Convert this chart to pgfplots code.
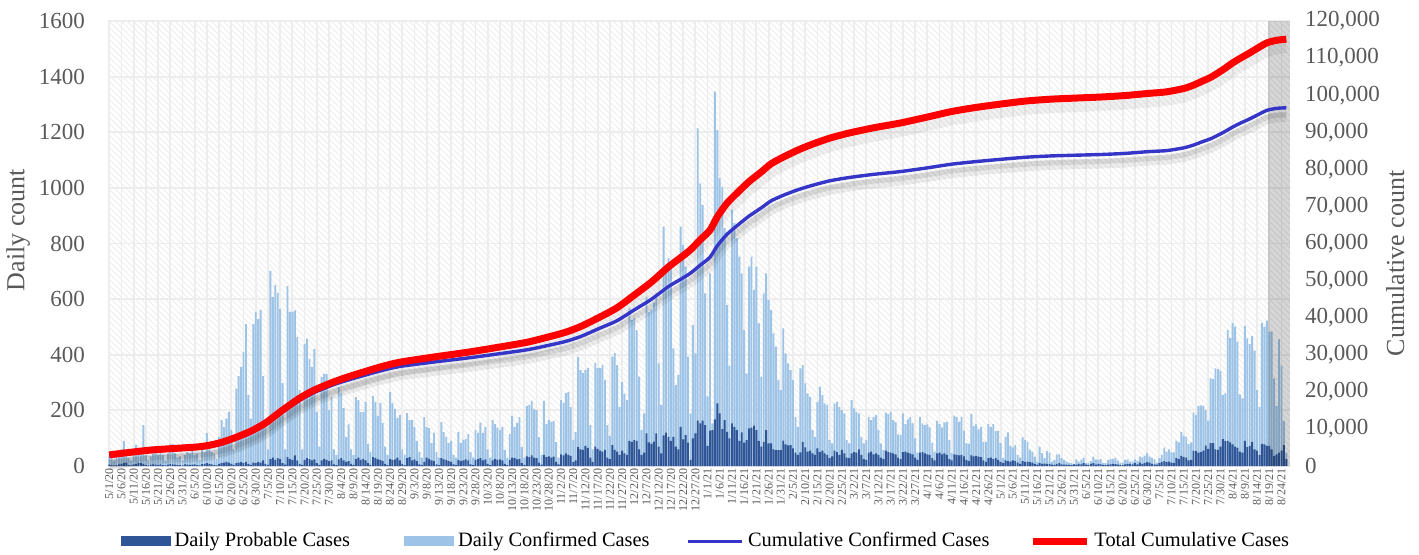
\documentclass[border=0pt]{standalone}
\usepackage{fontspec}
\setmainfont{Liberation Serif}
\usepackage{pgfplots}
\usepackage{pgfplotstable}
\pgfplotsset{compat=1.18}
\usetikzlibrary{patterns}
\definecolor{lightbar}{HTML}{9DC3E6}
\definecolor{darkbar}{HTML}{2F5597}
\definecolor{cumblue}{HTML}{3535C8}
\definecolor{ticktext}{HTML}{595959}
\pgfplotsset{
  barleg/.style={legend image code/.code={\fill[##1] (0pt,-2.6pt) rectangle (25pt,2.6pt);}},
  lineleg/.style={legend image code/.code={\draw[##1] (0pt,0pt) -- (27pt,0pt);}},
}
\pgfplotstableread{
d c p
0 35 5
1 30 3
2 20 2
3 40 4
4 45 6
5 60 8
6 90 10
7 45 12
8 30 4
9 20 2
10 50 6
11 75 8
12 55 12
13 60 10
14 147 8
15 40 3
16 20 2
17 35 5
18 45 6
19 50 5
20 40 4
21 45 6
22 40 3
23 20 2
24 45 5
25 80 7
26 80 6
27 45 5
28 30 4
29 35 3
30 20 2
31 40 6
32 50 5
33 45 4
34 55 5
35 40 6
36 45 3
37 20 2
38 60 7
39 50 8
40 118 10
41 60 8
42 50 6
43 45 4
44 25 2
45 105 8
46 165 10
47 140 12
48 170 15
49 195 12
50 130 8
51 60 4
52 277 10
53 323 12
54 356 14
55 410 10
56 510 15
57 255 8
58 170 4
59 510 12
60 554 10
61 529 14
62 561 12
63 323 20
64 150 8
65 60 4
66 701 25
67 608 30
68 651 22
69 622 28
70 564 25
71 298 10
72 60 5
73 647 32
74 554 25
75 554 22
76 560 38
77 464 20
78 273 8
79 60 4
80 439 22
81 457 28
82 385 25
83 356 20
84 421 24
85 194 10
86 70 4
87 320 20
88 331 26
89 331 22
90 201 18
91 250 20
92 60 6
93 40 3
94 284 24
95 262 28
96 208 20
97 104 15
98 150 18
99 60 8
100 40 4
101 248 25
102 237 30
103 194 22
104 194 26
105 230 20
106 80 10
107 50 4
108 252 32
109 230 28
110 180 24
111 227 22
112 155 18
113 70 8
114 40 3
115 266 25
116 227 22
117 205 24
118 172 30
119 183 20
120 60 8
121 40 3
122 190 28
123 165 32
124 165 20
125 140 24
126 90 18
127 50 6
128 30 3
129 176 15
130 140 30
131 136 26
132 83 20
133 120 18
134 50 6
135 30 3
136 158 28
137 122 24
138 104 22
139 83 18
140 90 15
141 40 6
142 30 3
143 122 22
144 83 18
145 94 20
146 97 24
147 115 20
148 50 6
149 30 3
150 129 22
151 119 25
152 155 28
153 119 20
154 140 24
155 60 8
156 30 3
157 165 20
158 151 26
159 137 22
160 129 24
161 140 20
162 58 8
163 30 3
164 115 22
165 180 30
166 140 28
167 155 24
168 176 26
169 68 10
170 30 4
171 216 35
172 219 32
173 234 38
174 205 30
175 201 28
176 104 12
177 40 5
178 234 40
179 151 32
180 165 35
181 158 30
182 162 34
183 86 15
184 30 6
185 237 42
186 227 38
187 262 45
188 266 40
189 212 36
190 94 14
191 122 20
192 392 68
193 345 60
194 334 58
195 345 72
196 352 65
197 147 30
198 60 15
199 370 70
200 352 62
201 352 55
202 363 52
203 309 58
204 147 30
205 108 25
206 392 75
207 406 58
208 363 52
209 212 40
210 302 55
211 259 45
212 237 40
213 567 90
214 525 87
215 531 93
216 489 90
217 321 60
218 130 40
219 189 48
220 609 117
221 555 85
222 563 80
223 587 88
224 621 117
225 369 70
226 219 45
227 861 110
228 693 120
229 747 105
230 729 90
231 423 105
232 291 70
233 327 60
234 861 141
235 795 96
236 717 111
237 393 84
238 189 22
239 507 99
240 405 117
241 1214 163
242 1016 153
243 939 163
244 621 147
245 250 72
246 693 127
247 153 129
248 1346 168
249 1208 225
250 1034 189
251 1004 133
252 855 165
253 579 123
254 360 99
255 921 153
256 873 141
257 819 129
258 753 90
259 693 121
260 489 84
261 333 93
262 717 135
263 753 138
264 633 145
265 717 129
266 513 90
267 321 70
268 621 87
269 693 129
270 597 81
271 561 81
272 477 60
273 429 57
274 309 57
275 273 57
276 495 91
277 405 78
278 369 74
279 345 75
280 309 63
281 177 48
282 141 40
283 351 49
284 363 87
285 297 67
286 261 52
287 249 55
288 129 45
289 105 40
290 231 63
291 285 50
292 255 55
293 225 45
294 219 40
295 93 28
296 81 35
297 225 55
298 231 50
299 213 40
300 201 58
301 189 45
302 93 30
303 81 28
304 237 45
305 207 50
306 195 48
307 189 60
308 105 40
309 81 25
310 93 22
311 177 48
312 165 52
313 177 42
314 183 45
315 129 40
316 81 30
317 57 25
318 192 55
319 187 50
320 195 48
321 165 45
322 159 42
323 114 30
324 111 25
325 189 50
326 151 52
327 168 48
328 177 45
329 153 42
330 99 30
331 48 22
332 177 48
333 153 50
334 147 45
335 150 42
336 139 40
337 82 28
338 52 20
339 163 45
340 151 48
341 139 42
342 157 45
343 159 40
344 94 25
345 46 20
346 181 42
347 177 40
348 159 38
349 177 40
350 127 35
351 82 22
352 80 18
353 187 38
354 144 35
355 150 36
356 132 34
357 141 32
358 87 20
359 87 15
360 151 28
361 141 30
362 151 25
363 126 28
364 126 22
365 82 15
366 28 10
367 105 20
368 121 18
369 73 16
370 67 20
371 75 18
372 40 12
373 30 8
374 103 18
375 94 15
376 87 16
377 58 14
378 52 12
379 34 8
380 16 5
381 70 10
382 46 8
383 28 9
384 54 8
385 48 8
386 16 5
387 22 4
388 42 8
389 42 10
390 28 6
391 22 5
392 16 5
393 12 4
394 10 3
395 7 6
396 24 5
397 16 8
398 22 6
399 30 10
400 10 5
401 12 4
402 18 8
403 34 10
404 24 5
405 22 8
406 25 6
407 10 4
408 10 3
409 22 5
410 25 6
411 26 8
412 28 7
413 19 5
414 10 4
415 12 3
416 23 6
417 23 8
418 16 8
419 16 6
420 24 10
421 18 6
422 34 12
423 31 8
424 37 10
425 46 14
426 34 12
427 28 8
428 24 6
429 12 5
430 28 10
431 40 15
432 66 18
433 52 14
434 60 16
435 49 12
436 49 10
437 90 28
438 85 25
439 123 36
440 108 32
441 106 30
442 79 20
443 85 22
444 193 54
445 183 54
446 216 48
447 217 50
448 217 55
449 201 73
450 163 62
451 315 82
452 312 82
453 351 60
454 348 58
455 343 70
456 255 97
457 261 90
458 489 90
459 461 85
460 515 78
461 501 70
462 447 65
463 258 52
464 243 48
465 503 90
466 459 68
467 438 72
468 467 87
469 415 60
470 273 55
471 213 40
472 515 80
473 501 78
474 523 72
475 483 72
476 483 60
477 315 36
478 216 42
479 455 48
480 361 55
481 162 75
482 48 25
}\daily
\pgfplotstableread{
d v
0 3000
17 4300
37 5200
45 6200
51 7500
58 9400
64 11600
70 14600
78 18300
84 20500
92 22700
99 24300
111 26700
119 28000
133 29400
147 30700
160 32100
172 33500
186 35900
193 37600
201 40200
208 42700
215 46100
222 49600
229 53700
234 56200
238 58300
242 61000
246 63600
249 67200
253 70900
258 74200
262 76700
267 79300
271 81500
276 83300
282 85200
288 86800
295 88400
303 89800
313 91200
324 92500
335 94100
345 95600
355 96700
365 97600
375 98400
385 98900
395 99200
406 99500
416 99900
426 100500
433 100900
440 101800
444 102700
447 103600
451 104800
454 106000
457 107300
460 108700
463 109900
467 111400
470 112600
474 114100
478 114800
482 115100
}\totalcum
\pgfplotstableread{
d v
0 2800
17 4020
37 4800
45 5770
51 7040
58 8920
64 11080
70 14040
78 17680
84 19840
92 21960
99 23420
111 25650
119 26850
133 28050
147 29150
160 30300
172 31450
186 33450
193 34900
201 37200
208 39200
215 42100
222 44950
229 48400
234 50350
238 52000
242 54150
246 56300
249 59400
253 62500
258 65300
262 67400
267 69600
271 71500
276 73000
282 74500
288 75700
295 76900
303 77800
313 78650
324 79400
335 80400
345 81400
355 82100
365 82700
375 83250
385 83600
395 83800
406 84000
416 84300
426 84800
433 85050
440 85800
444 86550
447 87300
451 88250
454 89200
457 90250
460 91400
463 92400
467 93600
470 94600
474 95900
478 96450
482 96600
}\confcum
\begin{document}
\begin{tikzpicture}
\begin{axis}[
  scale only axis, width=591pt, height=222.5pt,
  at={(0,0)}, anchor=south west,
  xmin=-0.5, xmax=483.5, ymin=0, ymax=1600,
  xtick={0,5,...,480},
  xticklabels={5/1/20,5/6/20,5/11/20,5/16/20,5/21/20,5/26/20,5/31/20,6/5/20,6/10/20,6/15/20,6/20/20,6/25/20,6/30/20,7/5/20,7/10/20,7/15/20,7/20/20,7/25/20,7/30/20,8/4/20,8/9/20,8/14/20,8/19/20,8/24/20,8/29/20,9/3/20,9/8/20,9/13/20,9/18/20,9/23/20,9/28/20,10/3/20,10/8/20,10/13/20,10/18/20,10/23/20,10/28/20,11/2/20,11/7/20,11/12/20,11/17/20,11/22/20,11/27/20,12/2/20,12/7/20,12/12/20,12/17/20,12/22/20,12/27/20,1/1/21,1/6/21,1/11/21,1/16/21,1/21/21,1/26/21,1/31/21,2/5/21,2/10/21,2/15/21,2/20/21,2/25/21,3/2/21,3/7/21,3/12/21,3/17/21,3/22/21,3/27/21,4/1/21,4/6/21,4/11/21,4/16/21,4/21/21,4/26/21,5/1/21,5/6/21,5/11/21,5/16/21,5/21/21,5/26/21,5/31/21,6/5/21,6/10/21,6/15/21,6/20/21,6/25/21,6/30/21,7/5/21,7/10/21,7/15/21,7/20/21,7/25/21,7/30/21,8/4/21,8/9/21,8/14/21,8/19/21,8/24/21},
  ytick={0,200,...,1600},
  axis line style={draw=none}, tick style={draw=none},
  grid=major, major grid style={draw=black!7, line width=0.9pt},
  axis background/.style={pattern=north west lines, pattern color=black!7},
  x tick label style={rotate=90, anchor=east, font=\fontsize{6}{6}\selectfont, text=ticktext, inner sep=1pt},
  y tick label style={font=\fontsize{11.5}{12}\selectfont, text=ticktext, xshift=-8pt},
  /pgf/number format/assume math mode=true,
  /pgf/number format/fixed,
  /pgf/number format/1000 sep={},
  ylabel={Daily count},
  every axis y label/.style={at={(axis description cs:-0.076,0.53)}, rotate=90, anchor=center, font=\fontsize{13}{15}\selectfont, text=ticktext},
  clip=false,
]
\addplot[ybar, bar width=0.78, bar shift=0pt, fill=lightbar, draw=none] table[x=d, y=c] {\daily};
\addplot[ybar, bar width=0.78, bar shift=0pt, fill=darkbar, draw=none] table[x=d, y=p] {\daily};
\addplot[fill=black, fill opacity=0.16, draw=none] coordinates {(474.6,0) (483.5,0) (483.5,1600) (474.6,1600)} -- cycle;
\end{axis}
\begin{axis}[
  scale only axis, width=591pt, height=222.5pt,
  at={(0,0)}, anchor=south west,
  xmin=-0.5, xmax=483.5, ymin=0, ymax=120000,
  axis x line=none, axis y line*=right,
  ytick={0,10000,...,120000}, scaled y ticks=false,
  axis line style={draw=none}, tick style={draw=none},
  y tick label style={font=\fontsize{11.5}{12}\selectfont, text=ticktext, xshift=4pt},
  /pgf/number format/assume math mode=true,
  /pgf/number format/fixed,
  /pgf/number format/1000 sep={,},
  ylabel={Cumulative count},
  every axis y label/.style={at={(axis description cs:1.089,0.455)}, rotate=90, anchor=center, font=\fontsize{13}{15}\selectfont, text=ticktext},
  clip=false,
  legend style={draw=none, fill=none, at={(0.0052,-0.169)}, anchor=west, legend columns=4,
    font=\fontsize{10.2}{12}\selectfont,
    /tikz/column 2/.style={column sep=25pt},
    /tikz/column 4/.style={column sep=16.5pt},
    /tikz/column 6/.style={column sep=18pt}},
  legend cell align=left,
]
\addlegendimage{barleg, fill=darkbar, draw=none}
\addlegendentry{Daily Probable Cases}
\addlegendimage{barleg, fill=lightbar, draw=none}
\addlegendentry{Daily Confirmed Cases}
\addplot[forget plot, smooth, tension=0.4, draw=black, opacity=0.07, line width=5pt, transform canvas={yshift=-4.5pt}] table[x=d, y=v] {\confcum};
\addplot[forget plot, smooth, tension=0.4, draw=black, opacity=0.09, line width=2.5pt, transform canvas={yshift=-3.5pt}] table[x=d, y=v] {\confcum};
\addplot[forget plot, smooth, tension=0.4, draw=black, opacity=0.06, line width=5pt, transform canvas={yshift=-4.5pt}] table[x=d, y=v] {\totalcum};
\addplot[lineleg, smooth, tension=0.4, draw=cumblue, line width=1.7pt] table[x=d, y=v] {\confcum};
\addlegendentry{Cumulative Confirmed Cases}
\addplot[lineleg, smooth, tension=0.4, draw=red, line width=3.5pt] table[x=d, y=v] {\totalcum};
\addlegendentry{Total Cumulative Cases}
\end{axis}
\pgfresetboundingbox
\path[use as bounding box] (-54pt,-44pt) rectangle (655.5pt,233pt);
\end{tikzpicture}
\end{document}
